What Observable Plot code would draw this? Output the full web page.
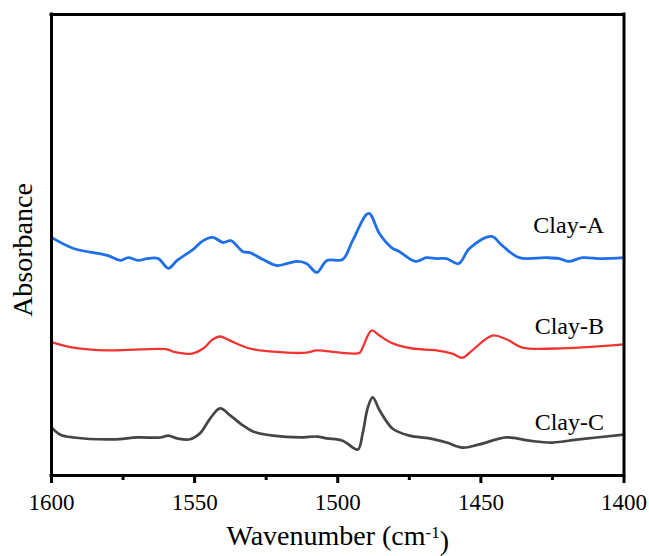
<!DOCTYPE html>
<html>
<head>
<meta charset="utf-8">
<script src="https://cdn.jsdelivr.net/npm/d3@7"></script>
<script src="https://cdn.jsdelivr.net/npm/@observablehq/plot@0.6"></script>
<style>
  html, body { margin: 0; padding: 0; background: #fff; }
  #chart svg { display: block; font-family: 'Liberation Serif', 'Times New Roman', serif; }
</style>
</head>
<body>
<div id="chart"></div>
<script>
// ---- Data ----
const clayAWave = [1600, 1592.3, 1580.5, 1576.0, 1573.2, 1569.7, 1566.6, 1562.7, 1559.2, 1556.1, 1550.5, 1547.0, 1543.6, 1540.1, 1537.3, 1533.1, 1530.7, 1526.1, 1521.3, 1517.8, 1513.9, 1510.8, 1507.3, 1503.8, 1498.3, 1494.8, 1489.2, 1485.4, 1481.2, 1478.4, 1472.8, 1469.0, 1465.5, 1462.0, 1457.8, 1454.0, 1446.3, 1442.5, 1436.6, 1427.2, 1422.6, 1419.2, 1414.6, 1407.7, 1400];
const clayAAbs  = [52.3, 49.9, 48.4, 47.3, 47.9, 47.3, 47.7, 47.7, 45.6, 47.3, 49.7, 51.6, 52.3, 51.2, 51.6, 49.2, 49.0, 47.5, 46.2, 46.6, 47.1, 46.6, 44.7, 47.3, 47.5, 51.6, 57.5, 53.1, 50.1, 49.2, 47.1, 47.9, 47.7, 47.7, 46.6, 49.9, 52.5, 50.5, 47.9, 47.9, 47.7, 47.1, 47.9, 47.7, 47.9];

const clayBWave = [1600, 1592.3, 1580.5, 1569.0, 1559.6, 1557.5, 1550.9, 1547.0, 1543.6, 1541.1, 1537.6, 1530.7, 1522.6, 1510.8, 1507.3, 1499.3, 1492.3, 1491.3, 1488.2, 1485.4, 1480.8, 1473.9, 1465.5, 1460.0, 1456.4, 1453.0, 1446.0, 1441.1, 1435.5, 1423.7, 1400];
const clayBAbs  = [29.6, 28.4, 27.8, 28.0, 28.0, 27.5, 27.1, 28.2, 30.2, 30.8, 29.9, 28.2, 27.5, 27.3, 27.8, 27.3, 27.3, 28.4, 32.1, 31.0, 29.3, 28.2, 27.8, 27.1, 26.2, 27.8, 31.0, 30.2, 28.4, 28.2, 29.1];

const clayCWave = [1600, 1596.9, 1592.3, 1578.4, 1570.0, 1562.0, 1559.2, 1556.1, 1551.6, 1548.1, 1544.6, 1541.1, 1537.6, 1533.1, 1529.6, 1522.6, 1513.2, 1507.3, 1503.8, 1498.3, 1493.0, 1491.3, 1489.5, 1487.8, 1485.4, 1480.8, 1474.9, 1467.9, 1462.0, 1456.4, 1450.5, 1441.1, 1433.1, 1425.1, 1415.7, 1400];
const clayCAbs  = [11.1, 9.5, 8.9, 8.5, 8.9, 8.9, 9.3, 8.7, 8.5, 9.8, 13.0, 15.2, 13.7, 11.5, 10.2, 9.3, 8.9, 9.1, 8.7, 8.2, 6.3, 9.8, 15.4, 17.6, 14.8, 10.8, 9.3, 8.7, 7.8, 6.7, 7.4, 8.9, 8.2, 7.8, 8.5, 9.5];

const seriesNames  = ["Clay-A", "Clay-B", "Clay-C"];
const seriesColors = ["#1f6fe6", "#f03434", "#454545"];
const seriesWidths = [2.8, 2.3, 2.7];
const labelWave    = [1407, 1407, 1407];
const labelAbs     = [54.9, 33.0, 12.1];

const xDomain = [1600, 1400];
const yDomain = [0.65, 100.65];
const majorTicks = [1600, 1550, 1500, 1450, 1400];
const minorTicks = [1575, 1525, 1475, 1425];

// ---- Build tables ----
const toRows = (w, a, name) => w.map((x, i) => ({ wave: x, abs: a[i], name }));
const seriesRows = [
  toRows(clayAWave, clayAAbs, seriesNames[0]),
  toRows(clayBWave, clayBAbs, seriesNames[1]),
  toRows(clayCWave, clayCAbs, seriesNames[2])
];
const labels = seriesNames.map((n, i) => ({ name: n, wave: labelWave[i], abs: labelAbs[i] }));

const ink = "#000000";

const chart = Plot.plot({
  width: 649,
  height: 556,
  marginLeft: 51,
  marginRight: 25.5,
  marginTop: 14,
  marginBottom: 81,
  x: { domain: xDomain },
  y: { domain: yDomain, axis: null },
  marks: [
    ...seriesRows.map((r, i) =>
      Plot.line(r, { x: "wave", y: "abs", stroke: seriesColors[i], strokeWidth: seriesWidths[i], curve: "catmull-rom", strokeLinejoin: "round" })
    ),
    Plot.text(labels, { x: "wave", y: "abs", text: "name", textAnchor: "end", fontSize: 24, fill: ink }),
    Plot.text(["Absorbance"], { frameAnchor: "left", textAnchor: "middle", lineAnchor: "middle", rotate: -90, dx: -28, dy: 5, fontSize: 28, fill: ink }),
    Plot.text(["Wavenumber (cm"], { frameAnchor: "bottom", textAnchor: "middle", lineAnchor: "middle", dy: 61, fontSize: 28, fill: ink }),
    Plot.axisX({ ticks: majorTicks, tickSize: 8, tickPadding: 10.5, strokeWidth: 3, stroke: ink, fill: ink, fontSize: 23, tickFormat: d => String(d), label: null }),
    Plot.axisX({ ticks: minorTicks, tickSize: 5, strokeWidth: 3, stroke: ink, tickFormat: () => "", label: null }),
    // plot border
    Plot.ruleX(xDomain, { y1: yDomain[0], y2: yDomain[1], stroke: ink, strokeWidth: 3, strokeLinecap: "square" }),
    Plot.ruleY(yDomain, { x1: xDomain[0], x2: xDomain[1], stroke: ink, strokeWidth: 3, strokeLinecap: "square" })
  ]
});

// superscript for the unit
d3.select(chart).selectAll("text").filter(function () {
  return this.textContent === "Wavenumber (cm";
}).each(function () {
  const t = d3.select(this);
  t.append("tspan").attr("dy", "-0.45em").attr("font-size", "17px").text("-1");
  t.append("tspan").attr("dy", "0.45em").text(")");
});

document.getElementById("chart").appendChild(chart);
</script>
</body>
</html>
